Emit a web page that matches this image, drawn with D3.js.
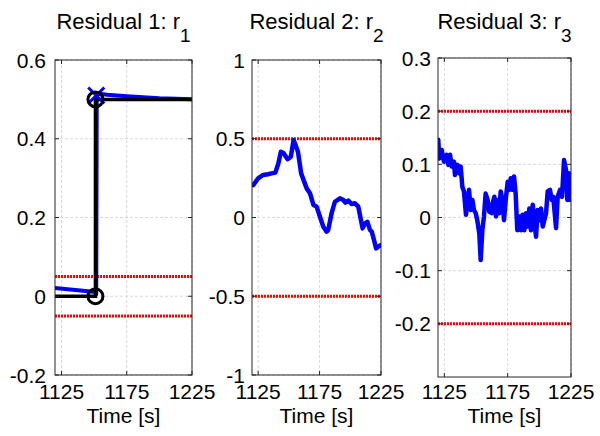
<!DOCTYPE html>
<html>
<head>
<meta charset="utf-8">
<script src="https://cdn.jsdelivr.net/npm/d3@7"></script>
<style>
  body { margin: 0; background: #fff; }
  text { font-family: Arial, "Liberation Sans", sans-serif; fill: #000; }
</style>
</head>
<body>
<svg id="chart" width="600" height="436"></svg>
<script>
// ---- shared time axis ----
const xDomain = [1120, 1225];
const xTicks = [1125, 1175, 1225];
const xLabel = "Time [s]";

// ---- Residual 1 ----
const r1Time  = [1120, 1151, 1151.6, 1152, 1160, 1175, 1200, 1225];
const r1Value = [0.021, 0.011, 0.005, 0.515, 0.512, 0.508, 0.503, 0.5];
const r1RefTime  = [1120, 1151, 1151, 1225];
const r1RefValue = [0, 0, 0.5, 0.5];
const r1CircleTime  = [1151, 1151];
const r1CircleValue = [0, 0.5];
const r1CrossTime  = [1151.6];
const r1CrossValue = [0.51];
const r1Thresholds = [0.05, -0.05];
const r1YDomain = [-0.2, 0.6];
const r1YTicks = [-0.2, 0, 0.2, 0.4, 0.6];

// ---- Residual 2 ----
const r2Time  = [1121, 1125, 1129, 1133, 1136, 1139, 1141.5, 1143.5, 1145.6, 1149, 1151.6, 1153.8, 1155,
                 1157.4, 1160, 1164.5, 1167.2, 1170, 1172.6, 1175.3, 1178, 1180.7, 1182, 1184.8, 1187.5,
                 1191.6, 1194.3, 1196, 1198.4, 1201, 1203.8, 1206.5, 1210, 1212, 1213.9, 1216, 1217.5,
                 1219.3, 1221, 1222.8, 1225];
const r2Value = [0.206, 0.249, 0.27, 0.275, 0.28, 0.285, 0.344, 0.418, 0.41, 0.37, 0.386, 0.49, 0.47,
                 0.418, 0.28, 0.185, 0.154, 0.08, 0.069, 0.005, -0.058, -0.09, -0.08, 0.027, 0.1,
                 0.122, 0.111, 0.095, 0.107, 0.086, 0.09, 0.069, -0.069, -0.037, -0.027, -0.079, -0.09,
                 -0.143, -0.196, -0.185, -0.175];
const r2Thresholds = [0.5, -0.5];
const r2YDomain = [-1, 1];
const r2YTicks = [-1, -0.5, 0, 0.5, 1];

// ---- Residual 3 ----
const r3Time  = [1120.2, 1121.0, 1122.9, 1124.7, 1126.9, 1128.2, 1129.5, 1130.8, 1132.6, 1133.4, 1135.3,
                 1136.8, 1137.9, 1139.2, 1140.5, 1142.1, 1143.4, 1144.5, 1145.8, 1147.1, 1148.4, 1149.8,
                 1151.0, 1152.6, 1153.7, 1155.0, 1156.3, 1157.6, 1159.2, 1160.5, 1162.4, 1163.2, 1164.5,
                 1165.8, 1166.8, 1168.2, 1169.5, 1170.8, 1172.1, 1173.7, 1175.0, 1176.3, 1177.4, 1178.7,
                 1180.0, 1181.3, 1182.6, 1184.2, 1185.5, 1186.8, 1188.1, 1189.5, 1190.8, 1192.1, 1193.4,
                 1194.8, 1196.0, 1197.4, 1198.7, 1200.0, 1201.3, 1202.7, 1203.9, 1205.3, 1206.6, 1208.4,
                 1209.8, 1211.0, 1213.2, 1214.5, 1216.3, 1217.9, 1219.5, 1221.1, 1222.1, 1223.7, 1224.2, 1225];
const r3Value = [0.146, 0.111, 0.127, 0.105, 0.118, 0.099, 0.118, 0.096, 0.105, 0.080, 0.099,
                 0.083, 0.096, 0.058, 0.049, 0.005, 0.033, 0.052, 0.014, 0.033, 0.014, 0.008,
                 -0.005, -0.030, -0.080, -0.024, 0.002, 0.045, 0.033, 0.011, 0.008, 0.027, 0.039,
                 0.002, 0.033, 0.008, 0.049, 0.033, -0.005, 0.039, 0.067, 0.052, 0.074, 0.052,
                 0.077, 0.045, -0.024, 0.002, -0.024, 0.005, -0.024, 0.008, -0.017, 0.017, -0.024,
                 0.024, -0.005, -0.036, 0.014, -0.005, 0.017, -0.017, -0.005, 0.008, 0.049, 0.052,
                 0.033, 0.039, -0.020, 0.039, 0.052, 0.039, 0.108, 0.089, 0.033, 0.083, 0.033, 0.06];
const r3Thresholds = [0.2, -0.2];
const r3YDomain = [-0.3, 0.3];
const r3YTicks = [-0.2, -0.1, 0, 0.1, 0.2, 0.3];

const TICK_FONT = 21;
const TITLE_FONT = 22;

const svg = d3.select("#chart");
svg.append("rect").attr("width", 600).attr("height", 436).attr("fill", "#fff");

const fmt = d => String(+d.toFixed(2));
const zip = (a, b) => a.map((t, i) => [t, b[i]]);

function panel(opt) {
  const x = d3.scaleLinear().domain(xDomain).range([opt.left, opt.right]);
  const y = d3.scaleLinear().domain(opt.yDomain).range([opt.bottom, opt.top]);
  const g = svg.append("g");
  const clipId = "clip" + opt.id;
  svg.append("clipPath").attr("id", clipId).append("rect")
    .attr("x", opt.left).attr("y", opt.top)
    .attr("width", opt.right - opt.left).attr("height", opt.bottom - opt.top);

  // grid
  g.append("g").selectAll("line").data(xTicks).join("line")
    .attr("x1", d => x(d)).attr("x2", d => x(d))
    .attr("y1", opt.top).attr("y2", opt.bottom)
    .attr("stroke", "#d9d9d9").attr("stroke-width", 1).attr("stroke-dasharray", "3,2");
  g.append("g").selectAll("line").data(opt.yTicks).join("line")
    .attr("y1", d => y(d)).attr("y2", d => y(d))
    .attr("x1", opt.left).attr("x2", opt.right)
    .attr("stroke", "#d9d9d9").attr("stroke-width", 1).attr("stroke-dasharray", "3,2");

  const plot = g.append("g").attr("clip-path", `url(#${clipId})`);

  // thresholds
  plot.selectAll("line.th").data(opt.thresholds).join("line")
    .attr("class", "th")
    .attr("x1", x(xDomain[0])).attr("x2", x(xDomain[1]))
    .attr("y1", d => y(d)).attr("y2", d => y(d))
    .attr("stroke", "#ff0000").attr("stroke-width", 3).attr("stroke-dasharray", "2,1");

  const line = d3.line().x(d => x(d[0])).y(d => y(d[1]));

  // residual signal
  plot.append("path").datum(zip(opt.time, opt.value))
    .attr("d", line).attr("fill", "none")
    .attr("stroke", "#0000ff").attr("stroke-width", opt.width || 4.5)
    .attr("stroke-linejoin", "round").attr("stroke-linecap", "round");

  if (opt.crossTime) {
    const s = 8;
    zip(opt.crossTime, opt.crossValue).forEach(([t, v]) => {
      g.append("path")
        .attr("d", `M${x(t) - s},${y(v) - s}L${x(t) + s},${y(v) + s}M${x(t) - s},${y(v) + s}L${x(t) + s},${y(v) - s}`)
        .attr("stroke", "#0000ff").attr("stroke-width", 3).attr("fill", "none");
    });
  }

  if (opt.refTime) {
    plot.append("path").datum(zip(opt.refTime, opt.refValue))
      .attr("d", line).attr("fill", "none")
      .attr("stroke", "#000").attr("stroke-width", 3.5).attr("stroke-linejoin", "miter");
    g.append("g").selectAll("circle").data(zip(opt.circleTime, opt.circleValue)).join("circle")
      .attr("cx", d => x(d[0])).attr("cy", d => y(d[1])).attr("r", 7.5)
      .attr("fill", "none").attr("stroke", "#000").attr("stroke-width", 3);
  }

  // box + inward ticks
  g.append("rect")
    .attr("x", opt.left).attr("y", opt.top)
    .attr("width", opt.right - opt.left).attr("height", opt.bottom - opt.top)
    .attr("fill", "none").attr("stroke", "#262626").attr("stroke-width", 1);
  const tl = 4;
  xTicks.forEach(t => {
    g.append("line").attr("x1", x(t)).attr("x2", x(t)).attr("y1", opt.bottom).attr("y2", opt.bottom - tl)
      .attr("stroke", "#262626");
    g.append("line").attr("x1", x(t)).attr("x2", x(t)).attr("y1", opt.top).attr("y2", opt.top + tl)
      .attr("stroke", "#262626");
  });
  opt.yTicks.forEach(v => {
    g.append("line").attr("x1", opt.left).attr("x2", opt.left + tl).attr("y1", y(v)).attr("y2", y(v))
      .attr("stroke", "#262626");
    g.append("line").attr("x1", opt.right).attr("x2", opt.right - tl).attr("y1", y(v)).attr("y2", y(v))
      .attr("stroke", "#262626");
  });

  // tick labels
  g.append("g").selectAll("text").data(opt.yTicks).join("text")
    .attr("x", opt.left - opt.gap).attr("y", d => y(d)).attr("dy", "0.36em")
    .attr("text-anchor", "end").attr("font-size", TICK_FONT).text(fmt);
  g.append("g").selectAll("text").data(xTicks).join("text")
    .attr("x", d => x(d)).attr("y", 399)
    .attr("text-anchor", "middle").attr("font-size", TICK_FONT).text(d => d);

  // axis label
  g.append("text").attr("x", (opt.left + opt.right) / 2).attr("y", 423)
    .attr("text-anchor", "middle").attr("font-size", TICK_FONT).text(xLabel);

  // title with subscript
  const title = g.append("text").attr("x", (opt.left + opt.right) / 2).attr("y", 29)
    .attr("text-anchor", "middle").attr("font-size", TITLE_FONT);
  title.append("tspan").text(opt.title);
  title.append("tspan").attr("font-size", 19).attr("dy", 13).text(opt.sub);
}

panel({ id: 1, left: 55, right: 192, top: 60, bottom: 375, gap: 9,
  yDomain: r1YDomain, yTicks: r1YTicks, thresholds: r1Thresholds,
  time: r1Time, value: r1Value, width: 4,
  refTime: r1RefTime, refValue: r1RefValue,
  circleTime: r1CircleTime, circleValue: r1CircleValue,
  crossTime: r1CrossTime, crossValue: r1CrossValue,
  title: "Residual 1: r", sub: "1" });

panel({ id: 2, left: 252, right: 381, top: 60, bottom: 375, gap: 7,
  yDomain: r2YDomain, yTicks: r2YTicks, thresholds: r2Thresholds,
  time: r2Time, value: r2Value,
  title: "Residual 2: r", sub: "2" });

panel({ id: 3, left: 438, right: 571, top: 58, bottom: 377, gap: 7,
  yDomain: r3YDomain, yTicks: r3YTicks, thresholds: r3Thresholds,
  time: r3Time, value: r3Value,
  title: "Residual 3: r", sub: "3" });
</script>
</body>
</html>
